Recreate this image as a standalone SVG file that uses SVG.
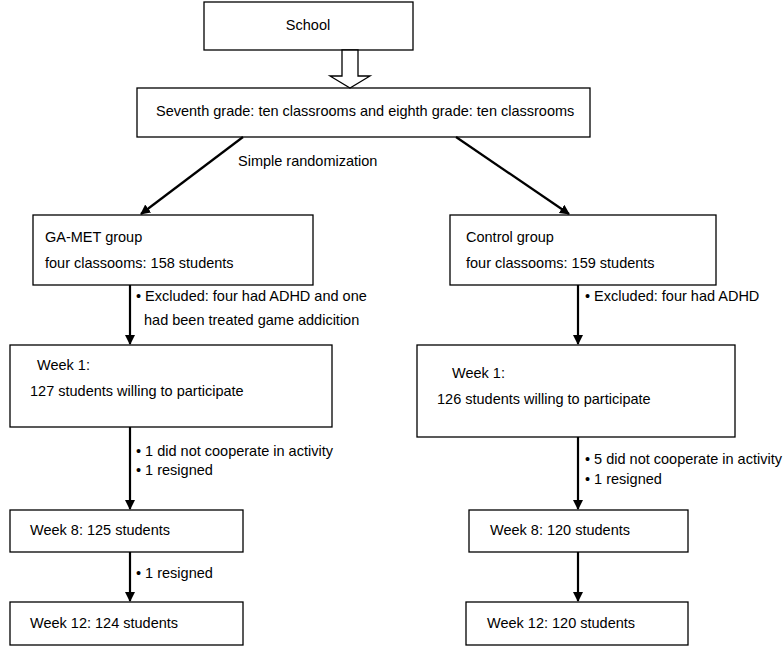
<svg xmlns="http://www.w3.org/2000/svg" width="783" height="654" viewBox="0 0 783 654">
<style>
rect.b{fill:#fff;stroke:#000;stroke-width:1.3}
text{font-family:"Liberation Sans",Arial,sans-serif;font-size:14.5px;fill:#000}
.c{stroke:#000;stroke-width:2.2;fill:none}
</style>
<defs><marker id="a" markerWidth="10" markerHeight="10" refX="9" refY="5" orient="auto" markerUnits="userSpaceOnUse"><path d="M0,0 L10,5 L0,10 z" fill="#000"/></marker></defs>
<rect width="783" height="654" fill="#fff"/>
<g id="school"><rect class="b" x="204" y="2" width="209" height="48"/><text x="308" y="30" text-anchor="middle">School</text></g>
<g id="grades"><rect class="b" x="137" y="88" width="453" height="49"/><text x="156" y="116">Seventh grade: ten classrooms and eighth grade: ten classrooms</text></g>
<g id="gamet"><rect class="b" x="33" y="215" width="280" height="70"/><text x="45" y="242">GA-MET group</text><text x="45" y="268">four classooms: 158 students</text></g>
<g id="control"><rect class="b" x="450" y="215" width="266" height="70"/><text x="466" y="242">Control group</text><text x="466" y="268">four classooms: 159 students</text></g>
<g id="w1l"><rect class="b" x="10" y="345" width="322" height="82"/><text x="37" y="370">Week 1:</text><text x="30" y="396">127 students willing to participate</text></g>
<g id="w1r"><rect class="b" x="417" y="345" width="318" height="92"/><text x="452" y="378">Week 1:</text><text x="437" y="404">126 students willing to participate</text></g>
<g id="w8l"><rect class="b" x="10" y="510" width="233" height="42"/><text x="30" y="535">Week 8: 125 students</text></g>
<g id="w8r"><rect class="b" x="469" y="510" width="219" height="42"/><text x="490" y="535">Week 8: 120 students</text></g>
<g id="w12l"><rect class="b" x="10" y="602" width="233" height="43"/><text x="30" y="628">Week 12: 124 students</text></g>
<g id="w12r"><rect class="b" x="466" y="602" width="222" height="43"/><text x="487" y="628">Week 12: 120 students</text></g>
<g id="connectors">
<path d="M342,50 h16 v26 h12 l-20,12 l-20,-12 h12 z" fill="#fff" stroke="#000" stroke-width="1.3"/>
<line class="c" x1="243" y1="137" x2="141" y2="214" marker-end="url(#a)"/>
<line class="c" x1="456" y1="137" x2="569" y2="214" marker-end="url(#a)"/>
<line class="c" x1="130" y1="285" x2="130" y2="344" marker-end="url(#a)"/>
<line class="c" x1="578" y1="285" x2="578" y2="344" marker-end="url(#a)"/>
<line class="c" x1="130" y1="427" x2="130" y2="509" marker-end="url(#a)"/>
<line class="c" x1="578" y1="437" x2="578" y2="509" marker-end="url(#a)"/>
<line class="c" x1="130" y1="552" x2="130" y2="601" marker-end="url(#a)"/>
<line class="c" x1="578" y1="552" x2="578" y2="601" marker-end="url(#a)"/>
</g>
<g id="labels">
<text x="238" y="166">Simple randomization</text>
<text x="136" y="301">• Excluded: four had ADHD and one</text>
<text x="144" y="325">had been treated game addicition</text>
<text x="585" y="301">• Excluded: four had ADHD</text>
<text x="136" y="456">• 1 did not cooperate in activity</text>
<text x="136" y="475">• 1 resigned</text>
<text x="585" y="464">• 5 did not cooperate in activity</text>
<text x="585" y="484">• 1 resigned</text>
<text x="136" y="578">• 1 resigned</text>
</g>
</svg>
